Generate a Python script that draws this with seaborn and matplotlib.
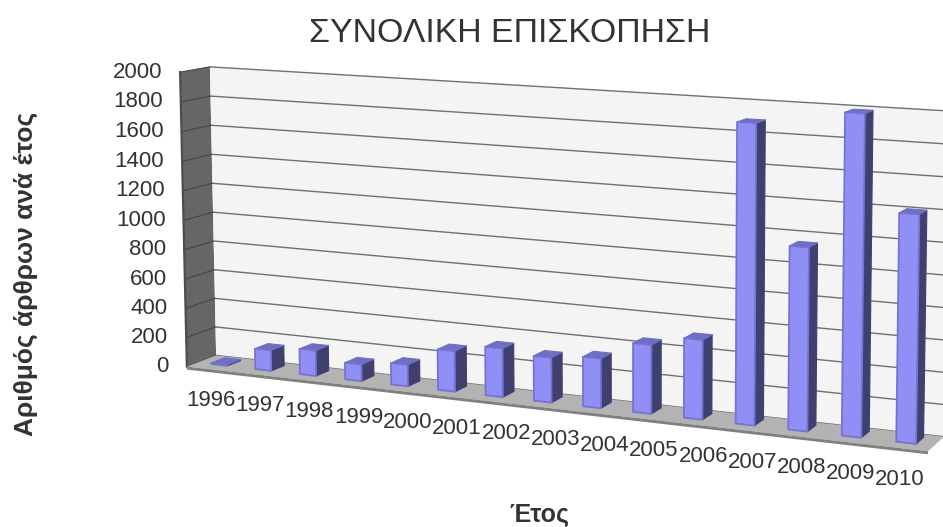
import numpy as np
import pandas as pd
import matplotlib
matplotlib.use('Agg')
import matplotlib.pyplot as plt
from matplotlib.patches import Polygon
from matplotlib.transforms import Transform, IdentityTransform
import seaborn as sns

years = ['1996','1997','1998','1999','2000','2001','2002','2003','2004','2005',
         '2006','2007','2008','2009','2010']
articles = [8,140,172,112,144,269,320,293,321,442,506,1885,1145,1985,1400]
y_ticks = [0,200,400,600,800,1000,1200,1400,1600,1800,2000]

W, H = 943, 527
YMAX = 2000
N = len(years)

# camera fitted on the corners of the box: (x 0-1, value 0-1, depth 0-1) -> pixel
box_pts = [(0,0,0),(0,1,0),(0,0,1),(0,1,1),(1,0,0),(1,0,1),(1,1,1)]
img_pts = [(187,367),(180,72),(216,355),(210,67),(928,451),(944,437),(949,111)]
A, b = [], []
for (X,Y,Z),(u,v) in zip(box_pts,img_pts):
    A.append([X,Y,Z,1,0,0,0,0,-u*X,-u*Y,-u*Z]); b.append(u)
    A.append([0,0,0,0,X,Y,Z,1,-v*X,-v*Y,-v*Z]); b.append(v)
P = np.append(np.linalg.lstsq(np.array(A,float),np.array(b,float),rcond=None)[0],1).reshape(3,4)
PIX = IdentityTransform()


def project(cat, val, depth):
    cat, val = np.asarray(cat,float), np.asarray(val,float)
    q = np.column_stack([(cat+0.5)/N, val/YMAX, np.full(cat.shape,depth), np.ones(cat.shape)])
    r = (P @ q.T).T
    return np.column_stack([r[:,0]/r[:,2], H - r[:,1]/r[:,2]])


class Camera(Transform):
    # category/value coordinates of the chart -> figure pixels, at a fixed depth
    input_dims = 2
    output_dims = 2
    is_separable = False
    has_inverse = False

    def __init__(self, z):
        super().__init__()
        self.z = z

    def transform_non_affine(self, values):
        values = np.asarray(values,float)
        return project(values[:,0], values[:,1], self.z)


def face(ax, corners, color, zorder, edge='none', lw=0):
    # corners: (category, value, depth)
    pts = np.vstack([project([c],[v],d) for c,v,d in corners])
    ax.add_patch(Polygon(pts, closed=True, transform=PIX, facecolor=color,
                         edgecolor=edge, linewidth=lw, zorder=zorder, joinstyle='round'))


plt.rcParams['font.family'] = ['Liberation Sans','DejaVu Sans']
fig = plt.figure(figsize=(W/100,H/100), dpi=100)
ax = fig.add_axes([0,0,1,1])

df = pd.DataFrame({'year':years,'articles':articles})
sns.barplot(data=df, x='year', y='articles', color='#8f8ff6', saturation=1, width=0.36, ax=ax)
ax.axis('off')

left, right = -0.5, N-0.5
z_front, z_back = 0.36, 0.82
bars = list(ax.patches)

# walls and floor
face(ax,[(left,0,0),(left,YMAX,0),(left,YMAX,1),(left,0,1)],'#666666',1)
face(ax,[(left,0,1),(left,YMAX,1),(right,YMAX,1),(right,0,1)],'#f4f4f4',1)
face(ax,[(left,0,0),(right,0,0),(right,0,1),(left,0,1)],'#b3b3b3',1.5)
lip = np.vstack([project([left,right],[0,0],0), project([right,left],[0,0],0)+[0,-3]])
ax.add_patch(Polygon(lip, closed=True, transform=PIX, facecolor='#808080', edgecolor='none', zorder=1.6))
ax.plot([left,left],[0,YMAX],transform=Camera(0),color='#4d4d4d',lw=1.6,zorder=1.3)
for t in y_ticks:
    ax.plot([left,right],[t,t],transform=Camera(1),color='#707070',lw=1,zorder=1.2,solid_capstyle='butt')
    pts = np.vstack([project([left],[t],0),project([left],[t],1)])
    ax.plot(pts[:,0],pts[:,1],transform=PIX,color='#444444',lw=0.8,zorder=1.2)
    ax.annotate(str(t),xy=(left,t),xycoords=Camera(0),xytext=(-18,0),textcoords='offset pixels',
                ha='right',va='center',fontsize=16,color='#333333')

# bars: seaborn gives the front face, the side and top follow from its geometry
for bar in bars:
    x0 = bar.get_x(); x1 = x0+bar.get_width(); v = bar.get_height()
    bar.set_transform(Camera(z_front))
    bar.set_zorder(3)
    bar.set_edgecolor('#7474cf')
    bar.set_linewidth(1.3)
    bar.set_joinstyle('round')
    face(ax,[(x1,0,z_front),(x1,v,z_front),(x1,v,z_back),(x1,0,z_back)],'#3f3f70',2.5,'#3f3f70',0.8)
    face(ax,[(x0,v,z_front),(x1,v,z_front),(x1,v,z_back),(x0,v,z_back)],'#6e6ec4',2.5,'#6e6ec4',0.8)

# year labels are evenly spaced along the front edge, below the floor
ends = project([0,N-1],[0,0],0)+[[2,-31],[0,-31]]
for i,lab in enumerate(years):
    pos = ends[0]+(ends[1]-ends[0])*i/(N-1)
    ax.text(pos[0],pos[1],lab,transform=PIX,ha='center',va='center',fontsize=16,color='#333333')

fig.text(510/W,1-33/H,'ΣΥΝΟΛΙΚΗ ΕΠΙΣΚΟΠΗΣΗ',ha='center',va='center',fontsize=24.4,color='#333333')
fig.text(26/W,1-274/H,'Αριθμός άρθρων ανά έτος',rotation=90,ha='center',va='center',
         fontsize=19,fontweight='bold',color='#333333')
fig.text(539/W,1-515/H,'Έτος',ha='center',va='center',fontsize=18,fontweight='bold',color='#333333')

fig.savefig('out.png',dpi=100)
